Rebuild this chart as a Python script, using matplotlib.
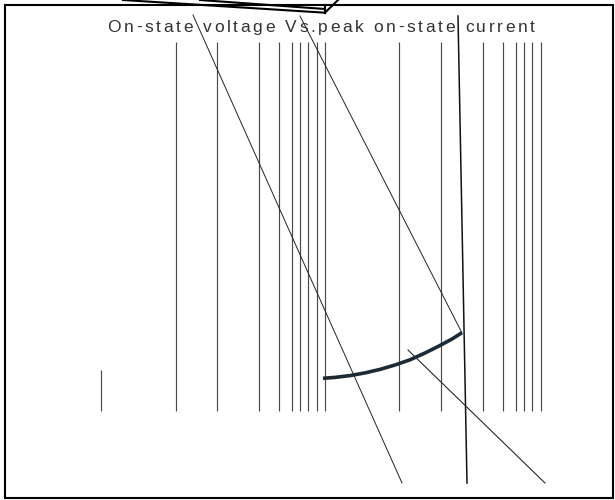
import matplotlib
matplotlib.use('Agg')
import matplotlib.pyplot as plt
from matplotlib.font_manager import FontProperties, findfont
from matplotlib.ft2font import FT2Font

title = 'On-state voltage Vs.peak on-state current'

# vertical grid lines (x in px), all running between the same top and bottom
grid_x = [175.7, 217, 258.7, 279.3, 291.7, 300, 308.3, 316.7, 325,
          399.3, 441, 482.7, 503.3, 516, 524, 532.3, 540.7]
grid_top = 42
grid_bottom = 411

# the short line on the left
short_x = 101
short_top = 370

# thick curve
curve_x = [323, 335, 350, 365, 380, 395, 410, 425, 440, 452, 462]
curve_y = [378.3, 377.4, 375.6, 372.9, 369.4, 365.0, 359.8, 353.0, 345.5, 339.0, 332.7]

# thin stray lines
line_a_x = [193, 402]
line_a_y = [15, 483]
line_b_x = [300, 462]
line_b_y = [16, 333]
line_c_x = [458, 467]
line_c_y = [16, 483]
line_d_x = [408, 545]
line_d_y = [350, 483]

# thick black strokes above the frame
top_x = [123, 325, 338]
top_y = [0, 12.7, 0]
top2_x = [200, 325]
top2_y = [0, 9]
top3_x = [325, 325]
top3_y = [5, 12.7]

# frame
box_x = [5, 613, 613, 5, 5]
box_y = [5, 5, 498, 498, 5]

fig = plt.figure(figsize=(6.15, 5), dpi=100)
ax = fig.add_axes([0, 0, 1, 1])
ax.set_xlim(0, 615)
ax.set_ylim(500, 0)
ax.axis('off')

# frame with a light shadow
ax.plot([6, 614], [499.5, 499.5], color='#999999', lw=0.8, clip_on=False)
ax.plot(box_x, box_y, color='black', lw=1.5, solid_joinstyle='miter')

ax.vlines(grid_x, grid_top, grid_bottom, color='#4a4a4a', lw=0.85)
ax.vlines([short_x], short_top, grid_bottom, color='#4a4a4a', lw=0.85)

ax.plot(curve_x, curve_y, color='#1e2a33', lw=2.6,
        solid_capstyle='butt', solid_joinstyle='round')

ax.plot(line_a_x, line_a_y, color='#222222', lw=0.7)
ax.plot(line_b_x, line_b_y, color='#222222', lw=0.7)
ax.plot(line_c_x, line_c_y, color='#111111', lw=1.1)
ax.plot(line_d_x, line_d_y, color='#1e2a33', lw=0.8)

ax.plot(top_x, top_y, color='black', lw=1.5, clip_on=False)
ax.plot(top2_x, top2_y, color='black', lw=1.5, clip_on=False)
ax.plot(top3_x, top3_y, color='black', lw=1.5, clip_on=False)

# title with extra letter spacing, placed char by char using glyph advances
fsize = 12.5
fp = FontProperties(family='Liberation Sans', size=fsize)
ft = FT2Font(findfont(fp))
ft.set_size(fsize, 100)
widths = [ft.load_char(ord(ch)).linearHoriAdvance / 65536 for ch in title]

title_left = 107.5
title_right = 535
spacing = (title_right - title_left - sum(widths)) / (len(title) - 1)
xpos = title_left
for ch, w in zip(title, widths):
    ax.text(xpos, 32, ch, fontproperties=fp, color='#333333',
            ha='left', va='baseline')
    xpos += w + spacing

fig.savefig('out.png', dpi=100)
